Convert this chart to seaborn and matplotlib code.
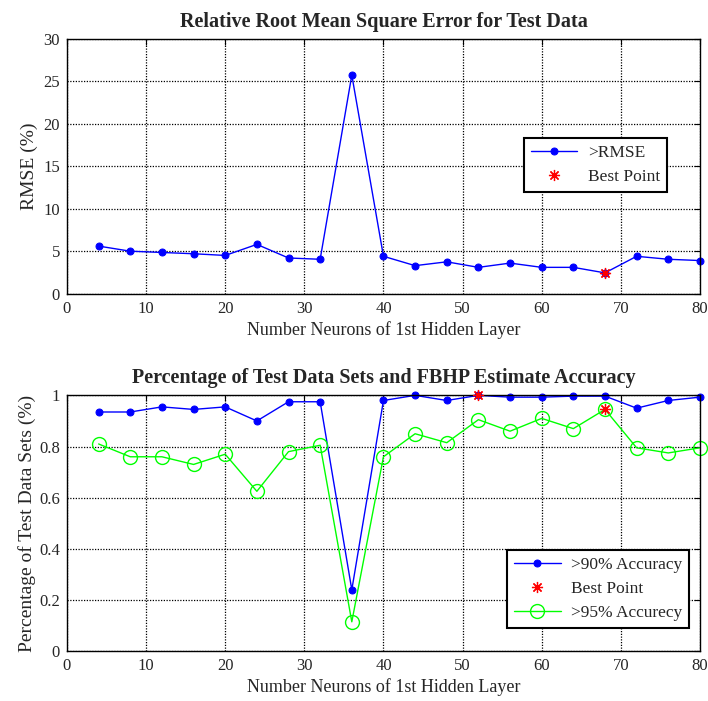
"""
Recriação: RMSE e percentagem de acerto em função do número de neurónios.
"""

import pandas as pd
import matplotlib.pyplot as plt
import seaborn as sns

# ---------------------------------------------------------------------------
# Dados
# ---------------------------------------------------------------------------
neuronios = [4, 8, 12, 16, 20, 24, 28, 32, 36, 40, 44, 48, 52, 56, 60, 64, 68, 72, 76, 80]
rmse = [5.6, 5.0, 4.85, 4.7, 4.5, 5.8, 4.2, 4.05, 25.7, 4.4,
        3.3, 3.75, 3.1, 3.6, 3.1, 3.1, 2.45, 4.4, 4.05, 3.9]
acc90 = [0.935, 0.935, 0.955, 0.945, 0.955, 0.90, 0.975, 0.975, 0.24, 0.98,
         1.0, 0.98, 1.0, 0.993, 0.993, 0.997, 0.997, 0.95, 0.98, 0.993]
acc95 = [0.81, 0.76, 0.76, 0.73, 0.77, 0.625, 0.78, 0.805, 0.115, 0.76,
         0.85, 0.815, 0.905, 0.86, 0.91, 0.87, 0.945, 0.795, 0.775, 0.795]

melhor_rmse_x = [68]
melhor_rmse_y = [2.45]
melhor_acc_x = [52, 68]
melhor_acc_y = [1.0, 0.945]

df = pd.DataFrame({"neuronios": neuronios, "rmse": rmse, "acc90": acc90, "acc95": acc95})

sns.set_style("whitegrid")
plt.rcParams["font.family"] = ["Liberation Serif", "DejaVu Serif"]

ASTERISCO = (8, 2, 0)
XLABEL = "Number Neurons of 1st Hidden Layer"


def estilo_matlab(ax):
    ax.set_facecolor("white")
    ax.grid(True, color="black", linestyle=(0, (1, 1.2)), linewidth=0.9)
    for lado in ax.spines.values():
        lado.set_color("black")
        lado.set_linewidth(1.0)
    ax.tick_params(direction="in", length=4, width=0.8, color="black",
                   top=True, right=True, labelsize=12, pad=5)
    ax.set_xlim(0, 80)
    ax.set_xticks(range(0, 81, 10))
    for linha in ax.get_lines():
        linha.set_clip_on(False)


def legenda(ax, **kw):
    leg = ax.legend(fontsize=12.5, frameon=True, fancybox=False, framealpha=1,
                    edgecolor="black", borderpad=0.4, handlelength=2.7,
                    handletextpad=0.6, labelspacing=0.45, borderaxespad=0, **kw)
    leg.get_frame().set_linewidth(1.5)


fig = plt.figure(figsize=(7.08, 7.01), dpi=100)
ax1 = fig.add_axes([0.0946, 0.581, 0.894, 0.364])
ax2 = fig.add_axes([0.0946, 0.071, 0.894, 0.365])

# Gráfico de cima - RMSE
sns.lineplot(data=df, x="neuronios", y="rmse", ax=ax1, color="blue", linewidth=1.0,
             marker="o", markersize=5, markeredgecolor="blue", label=">RMSE")
ax1.plot(melhor_rmse_x, melhor_rmse_y, linestyle="none", marker=ASTERISCO, color="red",
         markersize=8, markeredgewidth=0.9, label="Best Point")
estilo_matlab(ax1)
ax1.set_ylim(0, 30)
ax1.set_yticks(range(0, 31, 5))
ax1.set_title("Relative Root Mean Square Error for Test Data", fontsize=14.5,
              fontweight="bold", pad=8)
ax1.set_xlabel(XLABEL, fontsize=13, labelpad=3)
ax1.set_ylabel("RMSE (%)", fontsize=14, labelpad=4)
legenda(ax1, loc="upper right", bbox_to_anchor=(0.948, 0.612))

# Gráfico de baixo - percentagem de acerto
sns.lineplot(data=df, x="neuronios", y="acc90", ax=ax2, color="blue", linewidth=1.0,
             marker="o", markersize=5, markeredgecolor="blue", label=">90% Accuracy")
ax2.plot(melhor_acc_x, melhor_acc_y, linestyle="none", marker=ASTERISCO, color="red",
         markersize=8, markeredgewidth=0.9, label="Best Point", zorder=5)
sns.lineplot(data=df, x="neuronios", y="acc95", ax=ax2, color="#00ff00", linewidth=1.0,
             marker="o", markersize=10, markerfacecolor="none", markeredgecolor="#00ff00",
             markeredgewidth=1.0, label=">95% Accurecy")
estilo_matlab(ax2)
ax2.set_ylim(0, 1)
ax2.set_yticks([0, 0.2, 0.4, 0.6, 0.8, 1])
ax2.set_yticklabels(["0", "0.2", "0.4", "0.6", "0.8", "1"])
ax2.set_title("Percentage of Test Data Sets and FBHP Estimate Accuracy", fontsize=14.5,
              fontweight="bold", pad=9)
ax2.set_xlabel(XLABEL, fontsize=13, labelpad=3)
ax2.set_ylabel("Percentage of Test Data Sets (%)", fontsize=14, labelpad=2)
legenda(ax2, loc="lower right", bbox_to_anchor=(0.983, 0.09))

fig.savefig("out.png", dpi=100)
plt.close(fig)
